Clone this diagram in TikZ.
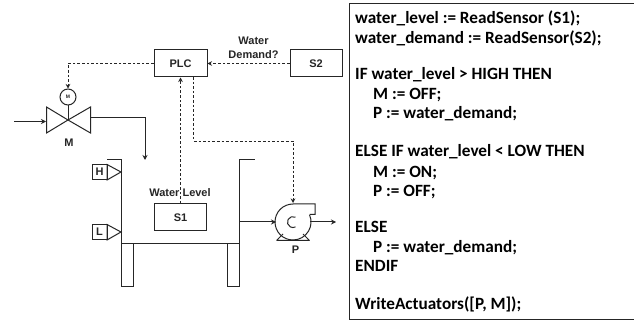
\documentclass[tikz,border=0pt]{standalone}
\usepackage{fontspec}
\setmainfont{Liberation Sans}
\newfontfamily\codefont{Carlito}
\usetikzlibrary{arrows.meta}
\definecolor{ink}{HTML}{262626}
\tikzset{
  ln/.style={draw=ink,line width=1pt},
  box/.style={ln,rectangle,minimum width=#1,minimum height=27pt,inner sep=0pt,font=\bfseries\fontsize{11}{13}\selectfont,text=ink},
  lab/.style={inner sep=0pt,font=\bfseries\fontsize{11}{13.5}\selectfont,text=ink,align=center},
  smallbox/.style={ln,rectangle,minimum width=15pt,minimum height=15pt,inner sep=0pt,font=\bfseries\fontsize{11}{13}\selectfont,text=ink},
  sig/.style={draw=ink,line width=0.9pt,dash pattern=on 2.6pt off 2pt,-{Stealth[length=4.5pt,width=4.5pt]}},
  flow/.style={ln,-{Stealth[length=5pt,width=5pt]}},
  code/.style={inner sep=0pt,anchor=base west,font=\codefont\bfseries\fontsize{17.2}{20}\selectfont,text=black}
}
\begin{document}
\begin{tikzpicture}[x=1pt,y=-1pt]
\useasboundingbox (0,0) rectangle (634,320);
\fill[white] (0,0) rectangle (634,320);
% code panel
\draw[ln] (349.5,3.5) -- (634,3.5) (349.5,3.5) -- (349.5,319) -- (634,319);
\node[code] (c1) at (355,23.5) {water\_level := ReadSensor (S1);};
\node[code] (c2) at (355,43.5) {water\_demand := ReadSensor(S2);};
\node[code] (c3) at (355,80) {IF water\_level > HIGH THEN};
\node[code] (c4) at (373,99.5) {M := OFF;};
\node[code] (c5) at (373,119) {P := water\_demand;};
\node[code] (c6) at (355,157) {ELSE IF water\_level < LOW THEN};
\node[code] (c7) at (373,177.5) {M := ON;};
\node[code] (c8) at (373,197) {P := OFF;};
\node[code] (c9) at (355,233) {ELSE};
\node[code] (c10) at (373,252) {P := water\_demand;};
\node[code] (c11) at (355,272) {ENDIF};
\node[code] (c12) at (355,309) {WriteActuators([P, M]);};
% controller and sensors
\node[box=53pt] (plc) at (180.5,63.5) {PLC};
\node[box=52pt] (s2) at (316,63.5) {S2};
\node[box=52pt] (s1) at (180.5,217.5) {S1};
\node[lab] (dem) at (253.5,48) {Water\\Demand?};
\node[lab] (wl) at (180,192.5) {Water Level};
% valve
\node[ln,circle,minimum size=16pt,inner sep=0pt,font=\bfseries\fontsize{5}{6}\selectfont,text=ink] (mot) at (68,97) {M};
\coordinate (vc) at (68,120);
\draw[ln,line join=miter] (vc) -- (46.5,107) -- (46.5,133) -- cycle;
\draw[ln,line join=miter] (vc) -- (90.5,107) -- (90.5,133) -- cycle;
\draw[ln] (mot) -- (vc);
\node[lab] (mlab) at (69,143) {M};
\coordinate (vin) at (14,121.5);
\coordinate (vinend) at (46,121.5);
\coordinate (vout) at (91,118);
\coordinate (fill) at (145,160);
\draw[flow] (vin) -- (vinend);
\draw[flow] (vout) -| (fill);
% tank
\draw[ln] (107,160) -- (121.5,160) -- (121.5,243.5) -- (239.5,243.5) -- (239.5,160) -- (254.5,160);
\draw[ln] (121.5,243.5) -- (121.5,286) -- (133.5,286) -- (133.5,243.5);
\draw[ln] (227.5,243.5) -- (227.5,286) -- (239.5,286) -- (239.5,243.5);
% level switches
\node[smallbox] (h) at (99.5,172) {H};
\node[smallbox] (l) at (99.5,232) {L};
\draw[ln,line join=miter] (107,164.5) -- (121,172) -- (107,180) -- cycle;
\draw[ln,line join=miter] (107,224.5) -- (121,232) -- (107,240) -- cycle;
% pump
\coordinate (pc) at (293,222);
\coordinate (ptop) at (293,203);
\coordinate (pleft) at (276,222);
\coordinate (pout) at (310,222);
\coordinate (pend) at (336,222);
\coordinate (tankout) at (239.5,222);
\draw[ln] (309.6,214.5) -- (315,214.5) -- (315,204) -- (293,204) arc[start angle=-90,end angle=-383,radius=18];
\draw[ln] (295.5,217.2) arc[start angle=-62,end angle=-298,radius=5.5];
\draw[ln,line join=miter] (276.5,240.5) -- (309.5,240.5) (276.5,240.5) -- (283,234) (309.5,240.5) -- (303,234);
\draw[flow] (tankout) -- (pleft);
\draw[flow] (pout) -- (pend);
\node[lab] (plab) at (295.5,250) {P};
% signals
\coordinate (pa) at (193.5,77);
\coordinate (pb) at (293,141);
\draw[sig] (s2) -- (plc);
\draw[sig] (plc.west) -| (mot.north);
\draw[sig] (s1.north) -- (plc.south);
\draw[sig] (pa) |- (pb) -- (ptop);
\end{tikzpicture}
\end{document}
